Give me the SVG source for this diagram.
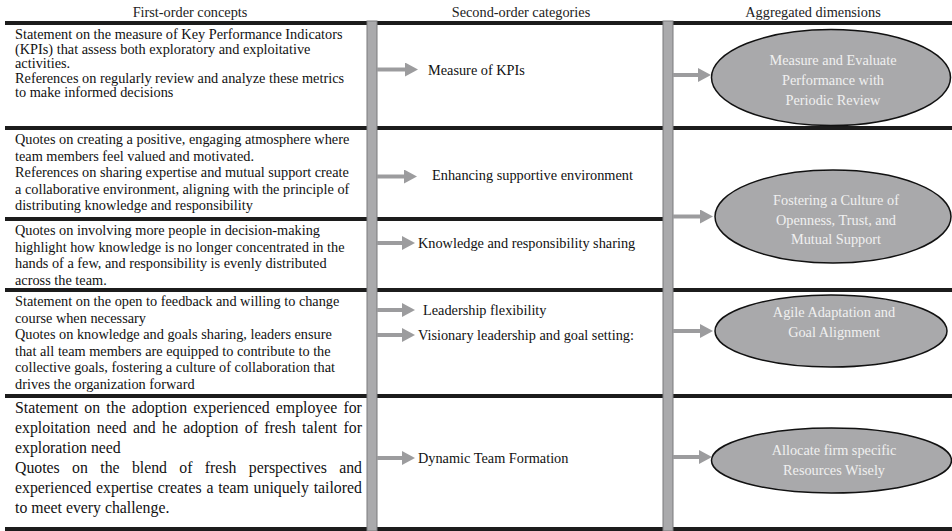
<svg xmlns="http://www.w3.org/2000/svg" width="952" height="531" viewBox="0 0 952 531">
<style>
text{font-family:"Liberation Serif","Times New Roman",serif;fill:#111}
.t{font-size:14.3px}
.h{font-size:14.3px;text-anchor:middle;fill:#222}
.r5{font-size:15.8px}
.rule{fill:#1c1c1c}
.bar{fill:#aaaaac;stroke:#7a7a7c;stroke-width:1}
.ell{fill:#a9a9ab;stroke:#111;stroke-width:1.5}
.et{font-size:14.3px;text-anchor:middle;fill:#f0f0f0}
.arr{stroke:#9c9c9e;stroke-width:4;fill:none}
</style>
<defs>
<marker id="ah" markerUnits="userSpaceOnUse" markerWidth="13" markerHeight="14" viewBox="0 0 13 14" refX="0" refY="7" orient="auto">
<path d="M0,0 L13,7 L0,14 Z" fill="#9c9c9e"/>
</marker>
</defs>
<rect width="952" height="531" fill="#fff"/>

<g id="headers">
<text class="h" x="190" y="17">First-order concepts</text>
<text class="h" x="521" y="17">Second-order categories</text>
<text class="h" x="813" y="17">Aggregated dimensions</text>
</g>

<g id="grid">
<rect class="rule" x="5" y="21" width="947" height="4"/>
<rect class="rule" x="5" y="126" width="947" height="4"/>
<rect class="rule" x="5" y="217" width="663" height="4"/>
<rect class="rule" x="5" y="288" width="947" height="4"/>
<rect class="rule" x="5" y="394" width="947" height="4"/>
<rect class="rule" x="5" y="527" width="947" height="4"/>
<rect class="bar" x="367" y="21" width="10" height="510"/>
<rect class="bar" x="663" y="21" width="10" height="510"/>
</g>

<g id="concept1">
<text class="t" x="15" y="39">Statement on the measure of Key Performance Indicators</text>
<text class="t" x="15" y="53.5">(KPIs) that assess both exploratory and exploitative</text>
<text class="t" x="15" y="68">activities.</text>
<text class="t" x="15" y="82.5">References on regularly review and analyze these metrics</text>
<text class="t" x="15" y="97">to make informed decisions</text>
</g>
<g id="concept2">
<text class="t" x="15" y="144">Quotes on creating a positive, engaging atmosphere where</text>
<text class="t" x="15" y="160.5">team members feel valued and motivated.</text>
<text class="t" x="15" y="177">References on sharing expertise and mutual support create</text>
<text class="t" x="15" y="193.5">a collaborative environment, aligning with the principle of</text>
<text class="t" x="15" y="210">distributing knowledge and responsibility</text>
</g>
<g id="concept3">
<text class="t" x="15" y="235">Quotes on involving more people in decision-making</text>
<text class="t" x="15" y="251.5">highlight how knowledge is no longer concentrated in the</text>
<text class="t" x="15" y="268">hands of a few, and responsibility is evenly distributed</text>
<text class="t" x="15" y="284.5">across the team.</text>
</g>
<g id="concept4">
<text class="t" x="15" y="306">Statement on the open to feedback and willing to change</text>
<text class="t" x="15" y="322.5">course when necessary</text>
<text class="t" x="15" y="339">Quotes on knowledge and goals sharing, leaders ensure</text>
<text class="t" x="15" y="355.5">that all team members are equipped to contribute to the</text>
<text class="t" x="15" y="372">collective goals, fostering a culture of collaboration that</text>
<text class="t" x="15" y="388.5">drives the organization forward</text>
</g>
<g id="concept5">
<text class="r5" x="15" y="413" word-spacing="2.25">Statement on the adoption experienced employee for</text>
<text class="r5" x="15" y="433" word-spacing="2.35">exploitation need and he adoption of fresh talent for</text>
<text class="r5" x="15" y="453">exploration need</text>
<text class="r5" x="15" y="473" word-spacing="8.4">Quotes on the blend of fresh perspectives and</text>
<text class="r5" x="15" y="493" word-spacing="0.8">experienced expertise creates a team uniquely tailored</text>
<text class="r5" x="15" y="513">to meet every challenge.</text>
</g>

<g id="cat1"><text class="t" x="428" y="74.5">Measure of KPIs</text></g>
<g id="cat2"><text class="t" x="432" y="180">Enhancing supportive environment</text></g>
<g id="cat3"><text class="t" x="418" y="248">Knowledge and responsibility sharing</text></g>
<g id="cat4"><text class="t" x="423" y="315">Leadership flexibility</text></g>
<g id="cat5"><text class="t" x="418" y="340">Visionary leadership and goal setting:</text></g>
<g id="cat6"><text class="t" x="418" y="463">Dynamic Team Formation</text></g>

<g id="dim1">
<ellipse class="ell" cx="831" cy="77.5" rx="119.5" ry="48"/>
<text class="et" x="833" y="65">Measure and Evaluate</text>
<text class="et" x="833" y="85">Performance with</text>
<text class="et" x="833" y="105">Periodic Review</text>
</g>
<g id="dim2">
<ellipse class="ell" cx="833" cy="216.5" rx="118" ry="46.5"/>
<text class="et" x="836" y="205">Fostering a Culture of</text>
<text class="et" x="836" y="224.5">Openness, Trust, and</text>
<text class="et" x="836" y="244">Mutual Support</text>
</g>
<g id="dim3">
<ellipse class="ell" cx="831" cy="331" rx="116" ry="36"/>
<text class="et" x="834" y="317">Agile Adaptation and</text>
<text class="et" x="834" y="337">Goal Alignment</text>
</g>
<g id="dim4">
<ellipse class="ell" cx="831.5" cy="460.5" rx="120" ry="32.5"/>
<text class="et" x="834" y="455">Allocate firm specific</text>
<text class="et" x="834" y="475">Resources Wisely</text>
</g>

<g id="connectors">
<line class="arr" x1="377" y1="69.5" x2="405" y2="69.5" marker-end="url(#ah)"/>
<line class="arr" x1="377" y1="176.5" x2="404" y2="176.5" marker-end="url(#ah)"/>
<line class="arr" x1="377" y1="243" x2="402" y2="243" marker-end="url(#ah)"/>
<line class="arr" x1="377" y1="310" x2="402" y2="310" marker-end="url(#ah)"/>
<line class="arr" x1="377" y1="335" x2="402" y2="335" marker-end="url(#ah)"/>
<line class="arr" x1="377" y1="458" x2="402" y2="458" marker-end="url(#ah)"/>
<line class="arr" x1="673" y1="75" x2="698" y2="75" marker-end="url(#ah)"/>
<line class="arr" x1="673" y1="216.5" x2="700" y2="216.5" marker-end="url(#ah)"/>
<line class="arr" x1="673" y1="331" x2="700" y2="331" marker-end="url(#ah)"/>
<line class="arr" x1="673" y1="457" x2="699" y2="457" marker-end="url(#ah)"/>
</g>
</svg>
